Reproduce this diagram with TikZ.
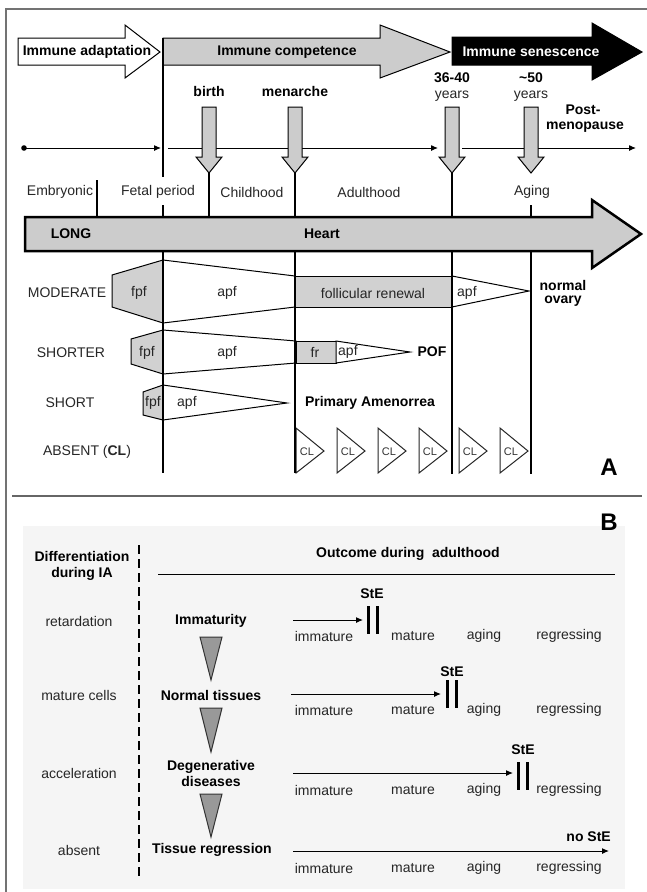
\documentclass[tikz,border=0pt]{standalone}
\usepackage{fontspec}
\setmainfont{Liberation Sans}
\usetikzlibrary{arrows.meta}
\begin{document}
\begin{tikzpicture}[x=1pt,y=-1pt,
  lbl/.style={font=\fontsize{14}{15}\selectfont,text=black!85,inner sep=0pt},
  blbl/.style={font=\bfseries\fontsize{14}{16}\selectfont,inner sep=0pt},
  cltext/.style={font=\fontsize{11}{12}\selectfont,text=black!80,inner sep=0pt},
  vline/.style={line width=2.5pt},
  gfill/.style={fill=black!18,draw=black,line width=1pt},
  wfill/.style={fill=white,draw=black,line width=1pt},
  tarr/.style={line width=1pt,-{Latex[length=7pt,width=6pt]}},
  stebar/.style={line width=3pt},
  downtri/.style={fill=black!40,draw=black!80,line width=1pt}
]
\useasboundingbox (0,0) rectangle (647,892);
% outer frame
\draw[black!55,line width=1.5pt] (6,892) -- (6,9) -- (647,9);
% ===== top immune arrows =====
\draw[fill=white,line width=1pt] (18,38) -- (125,38) -- (125,25) -- (160,52) -- (125,78) -- (125,65) -- (18,65) -- cycle;
\node[blbl] (ia) at (87,52) {Immune adaptation};
\draw[fill=black!20,line width=1pt] (163,38) -- (380,38) -- (380,25) -- (450,52) -- (380,78) -- (380,65) -- (163,65) -- cycle;
\node[blbl] (ic) at (287,52) {Immune competence};
\draw[fill=black,line width=1pt] (452,37) -- (592,37) -- (592,23) -- (642,52) -- (592,80) -- (592,65) -- (452,65) -- cycle;
\node[blbl,text=white] (is) at (531,52) {Immune senescence};
% vertical line under competence start
\draw[vline] (163,38) -- (163,177);
\draw[vline] (163,205) -- (163,216);
% ===== labels above timeline =====
\node[blbl] (birth) at (209,91) {birth};
\node[blbl] (men) at (295,91) {menarche};
\node[blbl] (y36) at (452,78) {36-40};
\node[lbl] (y36b) at (452,96) {years};
\node[blbl] (y50) at (531,78) {\textasciitilde 50};
\node[lbl] (y50b) at (531,96) {years};
\node[blbl] (post) at (583,110) {Post-};
\node[blbl] (meno) at (585,127) {menopause};
% ===== timeline =====
\fill (24,148) circle (2.8) coordinate (t0);
\coordinate (t1) at (161,148);
\coordinate (t2) at (168,148);
\coordinate (t3) at (438,148);
\coordinate (t4) at (462,148);
\coordinate (t5) at (636,148);
\draw[tarr] (t0) -- (t1);
\draw[tarr] (t2) -- (t3);
\draw[tarr] (t4) -- (t5);
% down block arrows
\foreach \x in {209,295,452,531}{
  \draw[fill=black!20,line width=1pt] (\x-7,107) -- (\x+7,107) -- (\x+7,157) -- (\x+13,157) -- (\x,173) -- (\x-13,157) -- (\x-7,157) -- cycle;
}
\draw[vline] (209,173) -- (209,216);
\draw[vline] (295,173) -- (295,216);
\draw[vline] (452,173) -- (452,216);
\draw[vline] (531,205) -- (531,216);
\draw[vline] (97,180) -- (97,216);
% period labels
\node[lbl] (emb) at (60,192) {Embryonic};
\node[lbl] (fet) at (158,192) {Fetal period};
\node[lbl] (chi) at (252,192) {Childhood};
\node[lbl] (adu) at (369,192) {Adulthood};
\node[lbl] (agi) at (532,192) {Aging};
% ===== LONG arrow =====
\draw[fill=black!20,line width=2.5pt,line join=miter] (25,217) -- (592,217) -- (592,200) -- (641,234) -- (592,268) -- (592,251) -- (25,251) -- cycle;
\node[blbl] (long) at (71,234) {LONG};
\node[blbl] (heart) at (322,234) {Heart};
% ===== MODERATE row =====
\draw[gfill] (112,275) -- (163,260) -- (163,323) -- (112,307) -- cycle;
\draw[wfill] (163,260) -- (295,276) -- (295,307) -- (163,323) -- cycle;
\draw[gfill] (295,276) rectangle (452,307);
\draw[wfill] (452,276) -- (529,291) -- (452,307) -- cycle;
\node[lbl] (mod) at (67,293) {MODERATE};
\node[lbl] (mfpf) at (139,293) {fpf};
\node[lbl] (mapf) at (227,293) {apf};
\node[lbl] (mfr) at (373,293) {follicular renewal};
\node[lbl,anchor=west] (mapf2) at (457,293) {apf};
\node[blbl] (norm) at (563,285) {normal};
\node[blbl] (ovary) at (563,301) {ovary};
% ===== SHORTER row =====
\draw[gfill] (131,339) -- (163,330) -- (163,374) -- (131,364) -- cycle;
\draw[wfill] (163,330) -- (296,341) -- (296,363) -- (163,374) -- cycle;
\draw[gfill] (296,341) rectangle (336,363);
\draw[wfill] (336,341) -- (410,352) -- (336,363) -- cycle;
\node[lbl] (shr) at (71,353) {SHORTER};
\node[lbl] (sfpf) at (147,353) {fpf};
\node[lbl] (sapf) at (227,353) {apf};
\node[lbl] (sfr) at (315,352) {fr};
\node[lbl,anchor=west] (sapf2) at (338,352) {apf};
\node[blbl] (pof) at (432,352) {POF};
% ===== SHORT row =====
\draw[gfill] (143,392) -- (163,385) -- (163,420) -- (143,415) -- cycle;
\draw[wfill] (163,385) -- (287,403) -- (163,420) -- cycle;
\node[lbl] (sh) at (70,403) {SHORT};
\node[lbl] (shfpf) at (153,403) {fpf};
\node[lbl,anchor=west] (shapf) at (177,403) {apf};
\node[blbl] (pa) at (370,403) {Primary Amenorrea};
% ===== ABSENT row =====
\node[lbl] (abs) at (87,452) {ABSENT (\textbf{CL})};
\foreach \x in {296,337,378,419,459,500}{
  \draw[fill=white,draw=black!85,line width=1pt] (\x,428) -- (\x+28,451) -- (\x,473) -- cycle;
  \node[cltext] at (\x+11,452) {CL};
}
% vertical lines below LONG
\draw[vline] (163,251) -- (163,473);
\draw[vline] (295,251) -- (295,473);
\draw[vline] (452,251) -- (452,474);
\draw[vline] (531,251) -- (531,474);
\node[font=\bfseries\fontsize{24}{26}\selectfont,inner sep=0pt] (la) at (609,467) {A};
% separator
\draw[black!60,line width=1.5pt] (12,496) -- (642,496);
% ===== Panel B =====
\fill[black!4] (23,526) rectangle (625,889);
\node[font=\bfseries\fontsize{24}{26}\selectfont,inner sep=0pt] (lb) at (609,522) {B};
\node[blbl,align=center] (diff) at (82,566) {Differentiation\\during IA};
\draw[line width=2pt,dash pattern=on 9pt off 5pt] (139,545) -- (139,880);
\node[blbl] (out) at (408,554) {Outcome during\ \ adulthood};
\draw[line width=1pt] (158,574) -- (615,574);
% row labels
\node[lbl] (r1l) at (79,621) {retardation};
\node[lbl] (r2l) at (79,695) {mature cells};
\node[lbl] (r3l) at (79,773) {acceleration};
\node[lbl] (r4l) at (79,850) {absent};
\node[blbl] (r1m) at (211,621) {Immaturity};
\node[blbl] (r2m) at (211,695) {Normal tissues};
\node[blbl,align=center] (r3m) at (211,773) {Degenerative\\diseases};
\node[blbl] (r4m) at (212,850) {Tissue regression};
% down triangles
\draw[downtri] (200,637) -- (222,637) -- (211,680) -- cycle;
\draw[downtri] (200,708) -- (222,708) -- (211,752) -- cycle;
\draw[downtri] (200,794) -- (222,794) -- (211,837) -- cycle;
% arrows
\coordinate (a1s) at (293,620); \coordinate (a1e) at (363,620);
\coordinate (a2s) at (291,694); \coordinate (a2e) at (441,694);
\coordinate (a3s) at (293,773); \coordinate (a3e) at (513,773);
\coordinate (a4s) at (293,851); \coordinate (a4e) at (609,851);
\draw[tarr] (a1s) -- (a1e);
\draw[tarr] (a2s) -- (a2e);
\draw[tarr] (a3s) -- (a3e);
\draw[tarr] (a4s) -- (a4e);
% StE bars
\draw[stebar] (368,606) -- (368,634); \draw[stebar] (377,606) -- (377,634);
\node[blbl] (ste1) at (372,594) {StE};
\draw[stebar] (447,680) -- (447,708); \draw[stebar] (456,680) -- (456,708);
\node[blbl] (ste2) at (452,672) {StE};
\draw[stebar] (518,762) -- (518,790); \draw[stebar] (527,762) -- (527,790);
\node[blbl] (ste3) at (523,750) {StE};
\node[blbl,anchor=east] (noste) at (611,837) {no StE};
% stage labels
\foreach \y/\n in {636/1,710/2,790/3,868/4}{
  \node[lbl] (im\n) at (324,\y) {immature};
  \node[lbl] (ma\n) at (413,\y) {mature};
  \node[lbl] (ag\n) at (484,\y) {aging};
  \node[lbl] (re\n) at (569,\y) {regressing};
}
\end{tikzpicture}
\end{document}
